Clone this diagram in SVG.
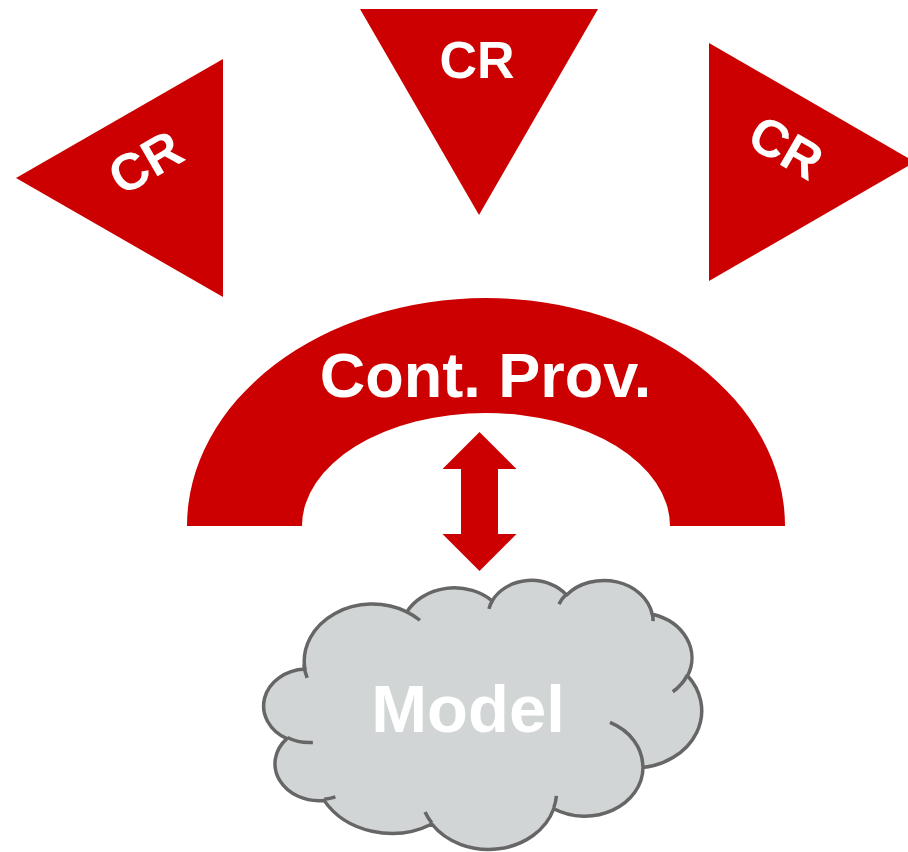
<svg xmlns="http://www.w3.org/2000/svg" width="908" height="852" viewBox="0 0 908 852">
  <style>
    .red { fill: #CC0000; }
    .lbl { font-family: "Liberation Sans", Arial, sans-serif; font-weight: bold; fill: #FFFFFF; text-anchor: middle; }
    .cr { font-size: 52px; }
    .cloud { fill: #D1D5D5; stroke: #666666; stroke-width: 3.5; stroke-linejoin: round; }
    .cloud-inner { fill: none; stroke: #666666; stroke-width: 3.5; stroke-linecap: butt; }
  </style>
  <rect width="908" height="852" fill="#FFFFFF"/>

  <!-- three CR pennants around the provider -->
  <g id="cr-left">
    <polygon class="red" points="16,178 223,59 223,297"/>
    <text class="lbl cr" transform="translate(154.5,178) rotate(-30)" x="0" y="0">CR</text>
  </g>
  <g id="cr-top">
    <polygon class="red" points="360,9 598,9 479,215"/>
    <text class="lbl cr" x="477" y="78">CR</text>
  </g>
  <g id="cr-right">
    <polygon class="red" points="709,43 915,162 709,281"/>
    <text class="lbl cr" transform="translate(777,163) rotate(30)" x="0" y="0">CR</text>
  </g>

  <!-- block arc: content provider -->
  <g id="content-provider">
    <path class="red" d="M 187 526 A 299 228 0 0 1 785 526 L 670 526 A 184 113 0 0 0 302 526 Z"/>
    <text class="lbl" style="font-size:63px" x="485.5" y="397">Cont. Prov.</text>
  </g>

  <!-- model cloud -->
  <g id="model">
    <path class="cloud" d="M 304.86 668.98
      A 68.16 57.23 0 0 1 406.84 611.89
      A 53.82 45.25 0 0 1 492.15 600.88
      A 44.05 37.02 0 0 1 566.61 594.96
      A 49.02 41.07 0 0 1 652.25 614.22
      A 53.82 45.29 0 0 1 687.58 675.77
      A 68.38 57.41 0 0 1 643.03 767.57
      A 58.39 48.99 0 0 1 553.72 808.73
      A 68.15 57.38 0 0 1 431.85 824.00
      A 77.91 65.65 0 0 1 324.10 800.39
      A 44.00 36.85 0 0 1 286.85 738.61
      A 43.85 37.02 0 0 1 304.86 668.98 Z"/>
    <path class="cloud-inner" d="
      M 312.86 742.50 A 43.85 37.02 0 0 1 287.30 737.54
      M 335.42 796.81 A 44.00 36.85 0 0 1 324.23 799.19
      M 431.81 822.91 A 68.15 57.38 0 0 1 425.06 812.07
      M 556.44 795.89 A 68.15 57.38 0 0 1 553.75 807.77
      M 609.95 722.43 A 58.39 48.99 0 0 1 642.77 766.86
      M 687.35 675.11 A 53.82 45.29 0 0 1 672.73 691.78
      M 652.29 613.29 A 49.02 41.07 0 0 1 653.06 621.15
      M 558.97 604.11 A 49.02 41.07 0 0 1 566.45 594.08
      M 488.96 608.89 A 44.05 37.02 0 0 1 492.58 600.24
      M 406.80 611.83 A 68.16 57.23 0 0 1 419.93 620.24
      M 307.15 677.82 A 68.16 57.23 0 0 1 303.92 664.67"/>
    <text class="lbl" style="font-size:67px" x="468" y="732">Model</text>
  </g>

  <!-- two-way link between provider and model -->
  <g id="connectors">
    <polygon id="link-provider-model" class="red" points="479.5,432 516.5,469 498,469 498,534 516.5,534 479.5,571 442.5,534 461,534 461,469 442.5,469"/>
  </g>
</svg>
